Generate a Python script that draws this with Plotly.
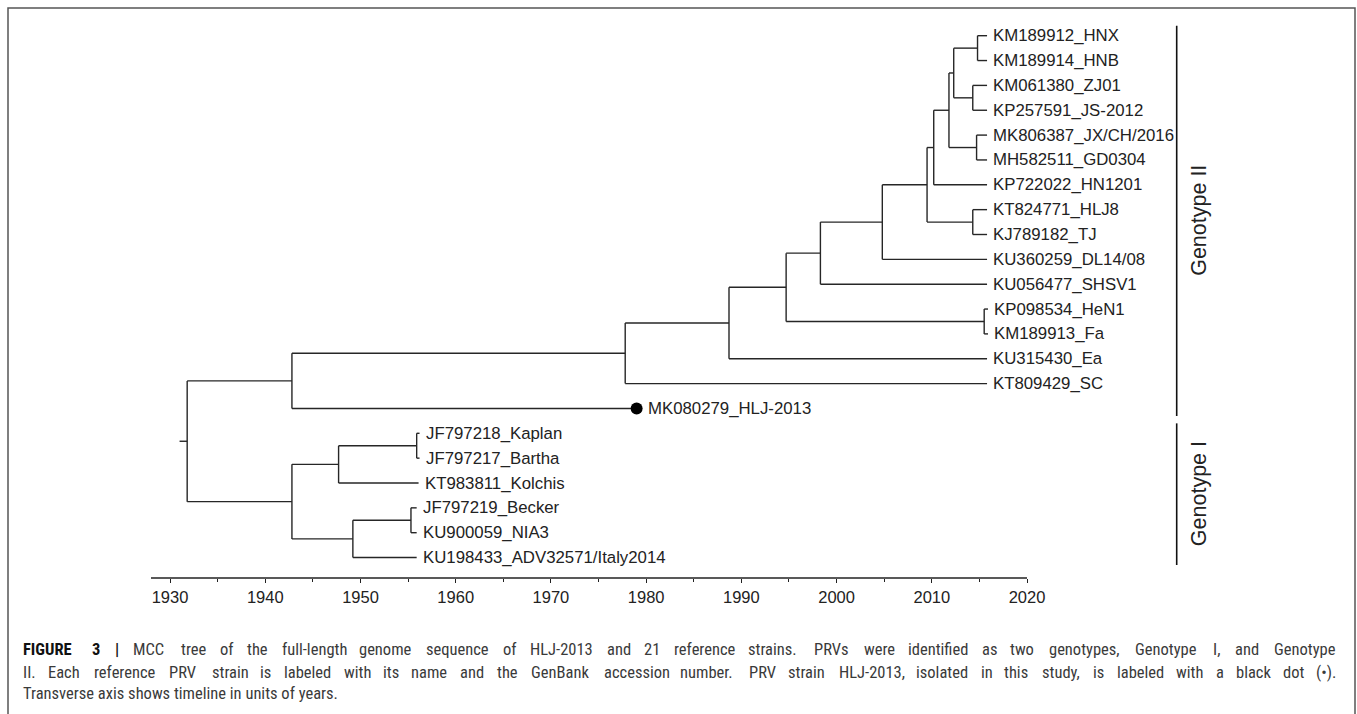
import plotly.graph_objects as go

# ---------------- data ----------------
leaf_names = [
    "KM189912_HNX", "KM189914_HNB", "KM061380_ZJ01", "KP257591_JS-2012",
    "MK806387_JX/CH/2016", "MH582511_GD0304", "KP722022_HN1201",
    "KT824771_HLJ8", "KJ789182_TJ", "KU360259_DL14/08", "KU056477_SHSV1",
    "KP098534_HeN1", "KM189913_Fa", "KU315430_Ea", "KT809429_SC",
    "MK080279_HLJ-2013",
    "JF797218_Kaplan", "JF797217_Bartha", "KT983811_Kolchis",
    "JF797219_Becker", "KU900059_NIA3", "KU198433_ADV32571/Italy2014",
]
leaf_years = [
    2015.8, 2015.8, 2015.8, 2015.8, 2015.8, 2015.8, 2015.8,
    2015.8, 2015.8, 2015.8, 2015.8, 2015.9, 2015.9, 2015.8, 2015.8,
    1979.0,
    1956.2, 1956.2, 1956.1, 1955.9, 1955.9, 1955.9,
]
highlight_leaf = "MK080279_HLJ-2013"

node_ids = ["root", "A", "B", "C", "D", "HF", "E", "F", "J", "HT", "I",
            "H", "MG", "G", "HH", "ZJ", "K", "L", "KB", "M", "BN"]
node_years = [1931.8, 1942.8, 1977.8, 1988.7, 1994.7, 2015.5, 1998.3,
              2004.8, 2009.5, 2014.3, 2010.2, 2011.8, 2014.7, 2012.3,
              2014.8, 2014.3, 1942.8, 1947.7, 1955.9, 1949.2, 1955.3]
node_children = [["A", "K"], ["B", 15], ["C", 14], ["D", 13], ["E", "HF"],
                 [11, 12], ["F", 10], ["J", 9], ["I", "HT"], [7, 8],
                 ["H", 6], ["G", "MG"], [4, 5], ["HH", "ZJ"], [0, 1],
                 [2, 3], ["L", "M"], ["KB", 18], [16, 17], ["BN", 21],
                 [19, 20]]
root_stub_year = 1931.0

genotype_names = ["Genotype II", "Genotype I"]
genotype_first_leaf = [0, 16]
genotype_last_leaf = [15, 21]

tick_years = list(range(1930, 2021, 10))
minor_tick_years = list(range(1935, 2016, 10))

caption_bold = "FIGURE 3 |"
caption_lines = [
    "MCC tree of the full-length genome sequence of HLJ-2013 and 21 reference strains. PRVs were identified as two genotypes, Genotype I, and Genotype",
    "II. Each reference PRV strain is labeled with its name and the GenBank accession number. PRV strain HLJ-2013, isolated in this study, is labeled with a black dot (\u2022).",
    "Transverse axis shows timeline in units of years.",
]
caption_justified = [True, True, False]

# ---------------- layout geometry ----------------
W, H = 1357, 714
L_M, R_M, T_M, B_M = 151, 17, 20, 136
plot_w = W - L_M - R_M
plot_h = H - T_M - B_M
px_per_year = 857 / 90.0
x_min = 1928
x_max = x_min + plot_w / px_per_year
leaf_top_px, leaf_step_px = 35.7, 24.85
y_top = (T_M - leaf_top_px) / leaf_step_px
y_bot = (H - B_M - leaf_top_px) / leaf_step_px


def xp(px):
    return (px - L_M) / plot_w


def yp(py):
    return (H - B_M - py) / plot_h


# approximate advance widths (Arial metrics, scaled for the condensed face)
_w = {" ": 278, ",": 278, "-": 333, ".": 278, "/": 278, "(": 333, ")": 333,
      "|": 260, "\u2022": 350, "_": 556}
for ch in "0123456789":
    _w[ch] = 556
_w.update(dict(zip("ABCDEFGHIJKLMNOPQRSTUVWXYZ",
                   [667, 667, 722, 722, 667, 611, 778, 722, 278, 500, 667, 556,
                    833, 722, 778, 667, 778, 722, 667, 611, 722, 667, 944, 667,
                    667, 611])))
_w.update(dict(zip("abcdefghijklmnopqrstuvwxyz",
                   [556, 556, 500, 556, 556, 278, 556, 556, 222, 222, 500, 222,
                    833, 556, 556, 556, 556, 333, 500, 278, 556, 500, 722, 500,
                    500, 500])))
_wb = dict(_w)
_wb.update({"F": 611, "I": 278, "G": 778, "U": 722, "R": 722, "E": 667,
            "3": 556, "|": 280, " ": 278})
COND_RATIO = 0.88


def text_w(s, size, bold=False):
    tab = _wb if bold else _w
    return sum(tab.get(c, 556) for c in s) / 1000.0 * size * COND_RATIO


node_year = dict(zip(node_ids, node_years))
node_kids = dict(zip(node_ids, node_children))
node_y = {}


def y_of(c):
    if isinstance(c, int):
        return float(c)
    if c not in node_y:
        ys = [y_of(k) for k in node_kids[c]]
        node_y[c] = (min(ys) + max(ys)) / 2.0
    return node_y[c]


def x_of(c):
    return leaf_years[c] if isinstance(c, int) else node_year[c]


xs, ys = [], []
y_of("root")
xs += [root_stub_year, node_year["root"], None]
ys += [node_y["root"], node_y["root"], None]
for nid in node_ids:
    kids = node_kids[nid]
    kys = [y_of(k) for k in kids]
    xs += [node_year[nid], node_year[nid], None]
    ys += [min(kys), max(kys), None]
    for k in kids:
        xs += [node_year[nid], x_of(k), None]
        ys += [y_of(k), y_of(k), None]

fig = go.Figure()
fig.add_trace(go.Scatter(x=xs, y=ys, mode="lines",
                         line=dict(color="#262626", width=1.4),
                         hoverinfo="skip", showlegend=False))

hi = leaf_names.index(highlight_leaf)
fig.add_trace(go.Scatter(x=[leaf_years[hi]], y=[hi], mode="markers",
                         marker=dict(color="#000000", size=12),
                         cliponaxis=False, hoverinfo="skip", showlegend=False))

FONT = "Liberation Sans, Arial, sans-serif"
CAP_FONT = "Roboto Condensed, DejaVu Sans Condensed, Liberation Sans, sans-serif"
annotations = []
for i, name in enumerate(leaf_names):
    annotations.append(dict(
        x=leaf_years[i], y=i, xref="x", yref="y", text=name,
        showarrow=False, xanchor="left", yanchor="middle",
        xshift=9 if name == highlight_leaf else 4,
        font=dict(family=FONT, size=16.8, color="#222222")))

bar_year = x_min + (1176.7 - L_M) / px_per_year
lab_year = x_min + (1199 - L_M) / px_per_year
pad_top, pad_bot = 0.4, 0.3
for gname, g0, g1 in zip(genotype_names, genotype_first_leaf, genotype_last_leaf):
    y0, y1 = g0 - pad_top, g1 + pad_bot
    fig.add_trace(go.Scatter(x=[bar_year, bar_year], y=[y0, y1], mode="lines",
                             line=dict(color="#111111", width=1.6),
                             hoverinfo="skip", showlegend=False))
    annotations.append(dict(
        x=lab_year, y=(y0 + y1) / 2, xref="x", yref="y", text=gname,
        textangle=-90, showarrow=False, xanchor="center", yanchor="middle",
        font=dict(family=FONT, size=21.5, color="#222222")))

# caption: justified lines, words placed from both ends to limit drift
CAP_SIZE = 16.5
cap_left, cap_right = 22, 1337
cap_y = [650, 672, 693]


def cap_ann(text, x, anchor, bold, cy):
    return dict(x=xp(x), y=yp(cy), xref="paper", yref="paper",
                text=f"<b>{text}</b>" if bold else text,
                showarrow=False, xanchor=anchor, yanchor="middle", borderpad=0,
                font=dict(family=CAP_FONT, size=CAP_SIZE,
                          color="#111111" if bold else "#3a3a3a"))


for li, (line, cy, just) in enumerate(zip(caption_lines, cap_y, caption_justified)):
    words = [(w, False) for w in line.split(" ")]
    if li == 0:
        words = [(w, True) for w in caption_bold.split(" ")] + words
    if not just:
        annotations.append(cap_ann(line, cap_left, "left", False, cy))
        continue
    widths = [text_w(w, CAP_SIZE, b) for w, b in words]
    gap = (cap_right - cap_left - sum(widths)) / (len(words) - 1)
    half = len(words) // 2
    x = cap_left
    for (w, b), ww in zip(words[:half], widths[:half]):
        annotations.append(cap_ann(w, x, "left", b, cy))
        x += ww + gap
    x = cap_right
    for (w, b), ww in zip(words[half:][::-1], widths[half:][::-1]):
        annotations.append(cap_ann(w, x, "right", b, cy))
        x -= ww + gap

shapes = [
    dict(type="line", xref="x", yref="paper", x0=x_min, x1=2020, y0=0, y1=0,
         line=dict(color="#222222", width=1.5)),
    dict(type="rect", xref="paper", yref="paper", x0=xp(8), x1=xp(1355),
         y0=yp(722), y1=yp(8), line=dict(color="#555555", width=1.5)),
]

fig.update_layout(
    width=W, height=H,
    margin=dict(l=L_M, r=R_M, t=T_M, b=B_M, pad=0),
    paper_bgcolor="white", plot_bgcolor="white",
    showlegend=False,
    annotations=annotations,
    shapes=shapes,
    xaxis=dict(range=[x_min, x_max], showgrid=False, zeroline=False,
               showline=False, tickvals=tick_years,
               ticktext=[str(t) for t in tick_years],
               ticks="outside", ticklen=4, tickwidth=1, tickcolor="#222222",
               minor=dict(tickvals=minor_tick_years, ticks="outside",
                          ticklen=3, tickwidth=1, tickcolor="#222222"),
               tickfont=dict(family=FONT, size=16.5, color="#222222")),
    yaxis=dict(range=[y_bot, y_top], showgrid=False, zeroline=False,
               showline=False, showticklabels=False, ticks=""),
)

fig.write_html("out.html")
